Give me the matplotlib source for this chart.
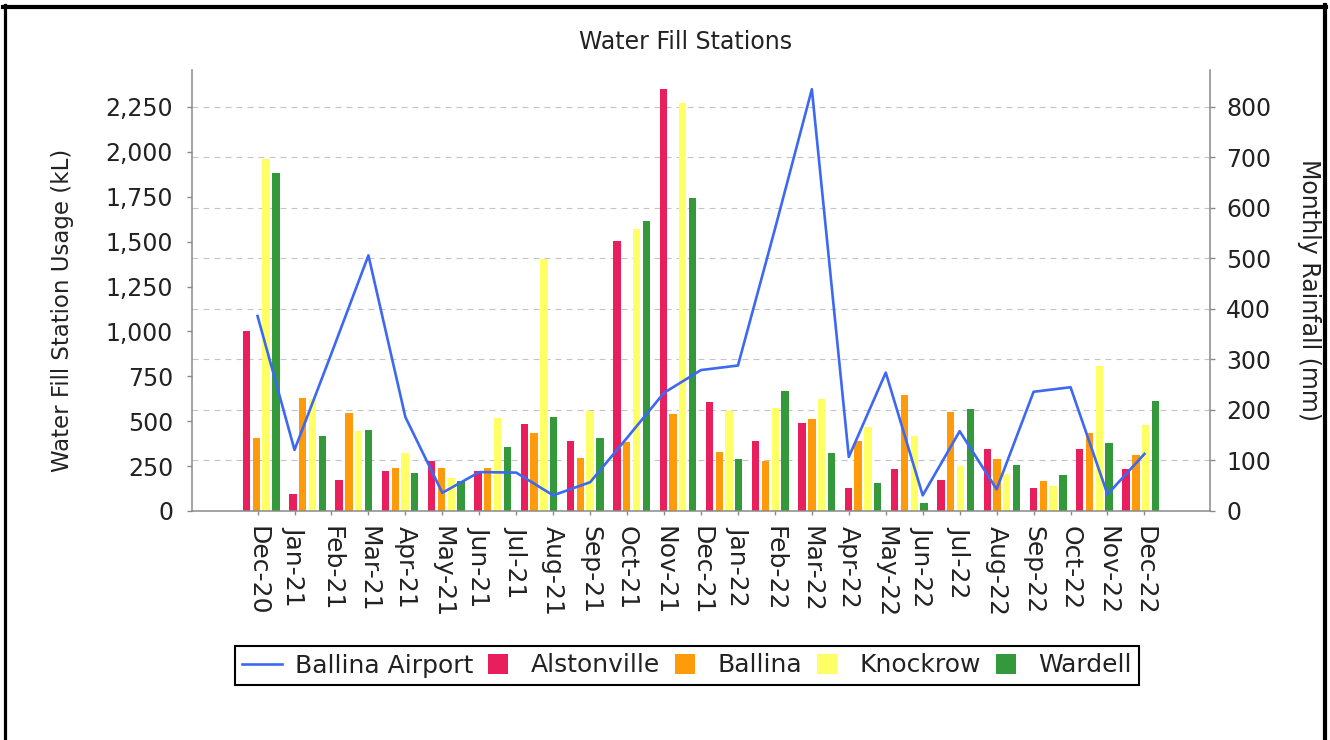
import numpy as np
import matplotlib
matplotlib.use("Agg")
import matplotlib.pyplot as plt
from matplotlib.lines import Line2D
from matplotlib.ticker import MultipleLocator, StrMethodFormatter

# months on the category axis (rainfall series)
months = ["Dec-20", "Jan-21", "Feb-21", "Mar-21", "Apr-21", "May-21", "Jun-21",
          "Jul-21", "Aug-21", "Sep-21", "Oct-21", "Nov-21", "Dec-21", "Jan-22",
          "Feb-22", "Mar-22", "Apr-22", "May-22", "Jun-22", "Jul-22", "Aug-22",
          "Sep-22", "Oct-22", "Nov-22", "Dec-22"]
ballina_airport = [386, 121, 312, 506, 186, 36, 77, 76, 31, 57, 145, 234, 279,
                   288, 558, 835, 107, 274, 31, 158, 43, 236, 245, 33, 113]

# station usage (kL), 20 groups of bars
alstonville = [1000, 92, 175, 225, 280, 222, 485, 390, 1505, 2350,
               608, 390, 488, 128, 235, 170, 345, 128, 345, 235]
ballina = [405, 632, 548, 240, 238, 238, 432, 293, 386, 540,
           330, 280, 512, 390, 648, 550, 288, 168, 432, 312]
knockrow = [1960, 625, 445, 325, 185, 520, 1402, 558, 1568, 2272,
            555, 575, 625, 470, 420, 250, 205, 140, 805, 480]
wardell = [1884, 415, 452, 210, 165, 355, 526, 405, 1615, 1742,
           290, 670, 325, 155, 45, 570, 255, 200, 380, 610]

stations = ["Alstonville", "Ballina", "Knockrow", "Wardell"]
colors = ["#E91E5C", "#FF9A0A", "#FFFF66", "#33993A"]
line_color = "#3D68F2"
axis_grey = "#8A8A8A"
text_col = "#222222"

W, H = 1330, 740


def category_limits(n, margin=0.05, cat_margin=0.2):
    # category axis layout: outer margins plus gaps between categories
    width = (1 - 2 * margin) * (1 - cat_margin) / n
    gap = (1 - 2 * margin) * cat_margin / (n - 1)
    step = width + gap
    edge = (margin + width / 2) / step
    return (-edge, n - 1 + edge), width / step


fig = plt.figure(figsize=(W / 100, H / 100), dpi=100)
ax = fig.add_axes([192 / W, 1 - 511 / H, (1210 - 192) / W, 441 / H])
ax_r = ax.twinx()
ax_l = ax_r.twiny()

ax_r.set_zorder(1)
ax.set_zorder(2)
ax_l.set_zorder(3)
ax.patch.set_visible(False)
ax_l.patch.set_visible(False)

# bars
n_bar = len(alstonville)
bar_x = np.arange(n_bar)
(lo, hi), group_w = category_limits(n_bar)
bw = group_w * 0.8 / 4
step = bw + group_w * 0.2 / 3
for j, (vals, c) in enumerate(zip([alstonville, ballina, knockrow, wardell], colors)):
    ax.bar(bar_x + (j - 1.5) * step, vals, width=bw, color=c, linewidth=0)
ax.set_xlim(lo, hi)
ax.set_xticks([])
ax.set_ylim(0, 2456)
ax.yaxis.set_major_locator(MultipleLocator(250))
ax.yaxis.set_major_formatter(StrMethodFormatter("{x:,.0f}"))
ax.tick_params(axis="y", direction="out", length=3.6, width=1, color=axis_grey,
               pad=10, labelsize=17, labelcolor=text_col)

# right axis + gridlines
ax_r.set_ylim(0, 873)
ax_r.yaxis.set_major_locator(MultipleLocator(100))
ax_r.tick_params(axis="y", direction="out", length=3.6, width=1, color=axis_grey,
                 pad=8, labelsize=17, labelcolor=text_col)
ax_r.yaxis.grid(True, color="#c4c4c4", linestyle=(0, (5.4, 4.5)), linewidth=0.8)

# rainfall line
n_line = len(months)
(llo, lhi), _ = category_limits(n_line)
ax_l.plot(np.arange(n_line), ballina_airport, color=line_color, lw=1.9)
ax_l.set_xlim(llo, lhi)
ax_l.xaxis.set_ticks_position("bottom")
ax_l.set_xticks(np.arange(n_line))
ax_l.set_xticklabels(months, rotation=270, ha="center", va="top", fontsize=18,
                     color=text_col)
ax_l.tick_params(axis="x", direction="out", length=3, width=1, color=axis_grey, pad=8)

for a in (ax, ax_r, ax_l):
    for s in a.spines.values():
        s.set_visible(False)
for s in ("left", "bottom"):
    ax.spines[s].set_visible(True)
    ax.spines[s].set_color(axis_grey)
    ax.spines[s].set_linewidth(1.1)
ax_r.spines["right"].set_visible(True)
ax_r.spines["right"].set_color(axis_grey)
ax_r.spines["right"].set_linewidth(1.1)

# texts
fig.text(686 / W, 1 - 42 / H, "Water Fill Stations", ha="center", va="center",
         fontsize=17, color=text_col)
fig.text(63 / W, 1 - 310 / H, "Water Fill Station Usage (kL)", rotation=90,
         ha="center", va="center", fontsize=16.5, color=text_col)
fig.text(1309 / W, 1 - 290 / H, "Monthly Rainfall (mm)", rotation=270,
         ha="center", va="center", fontsize=17, color=text_col)

# legend
handles = [Line2D([], [], color=line_color, lw=1.9)]
for c in colors:
    handles.append(Line2D([], [], marker="s", markersize=15, linestyle="None",
                          markerfacecolor=c, markeredgewidth=0))
leg = fig.legend(handles, ["Ballina Airport"] + stations, loc="center",
                 bbox_to_anchor=(687 / W, 1 - 665.5 / H), ncol=5, fontsize=18,
                 frameon=True, fancybox=False, framealpha=1, edgecolor="black",
                 handlelength=1.6, handletextpad=0.5, columnspacing=0.2,
                 borderpad=0.3, borderaxespad=0)
leg.get_frame().set_linewidth(1.5)
for t in leg.get_texts():
    t.set_color(text_col)

# outer frame
fig.add_artist(Line2D([4.5 / W, 4.5 / W], [0, 1 - 5 / H], transform=fig.transFigure,
                      color="black", lw=2.3))
fig.add_artist(Line2D([3 / W, 1326 / W], [1 - 7 / H, 1 - 7 / H], transform=fig.transFigure,
                      color="black", lw=3))
fig.add_artist(Line2D([1324.5 / W, 1324.5 / W], [0, 1 - 5 / H], transform=fig.transFigure,
                      color="black", lw=3))

fig.savefig("out.png", dpi=100, facecolor="white")
